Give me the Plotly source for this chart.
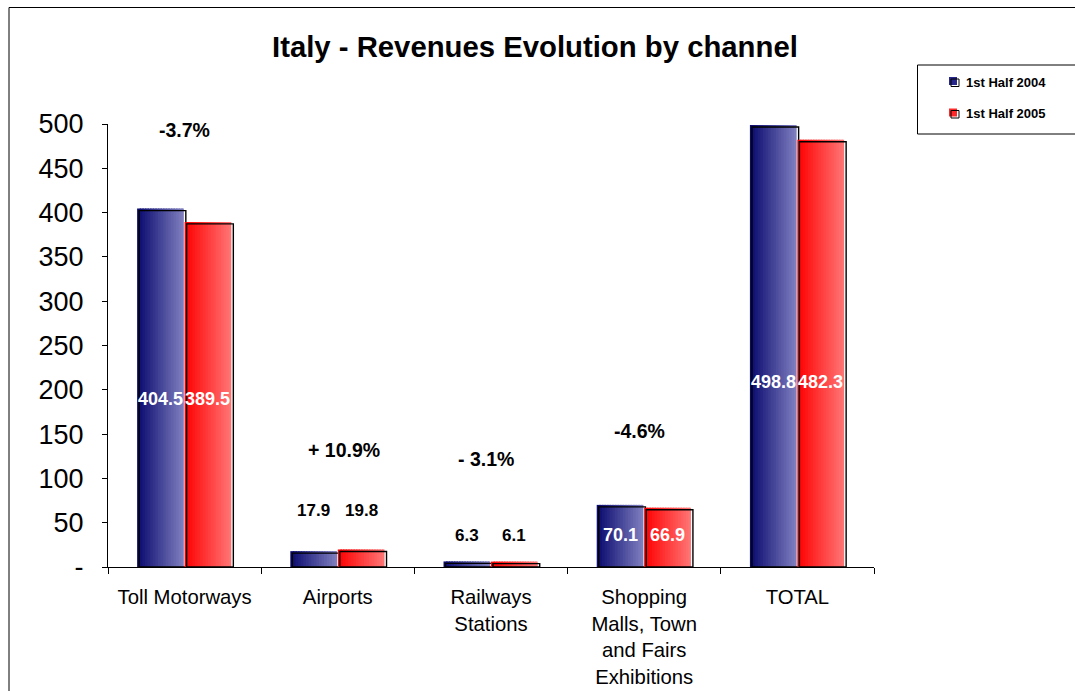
import plotly.graph_objects as go

# ---------------- data ----------------
categories = ["Toll Motorways", "Airports", "Railways<br>Stations",
              "Shopping<br>Malls, Town<br>and Fairs<br>Exhibitions", "TOTAL"]
series_names = ["1st Half 2004", "1st Half 2005"]
h1_2004 = [404.5, 17.9, 6.3, 70.1, 498.8]
h1_2005 = [389.5, 19.8, 6.1, 66.9, 482.3]
pct_labels = ["-3.7%", "+ 10.9%", "- 3.1%", "-4.6%", "-3.3%"]
y_tickvals = [0, 50, 100, 150, 200, 250, 300, 350, 400, 450, 500]
y_ticktext = ["-", "50", "100", "150", "200", "250", "300", "350", "400", "450", "500"]

# ---------------- layout / style constants ----------------
W, H = 1075, 691
L, R, T, B = 108, 874, 124, 567
YMAX = 500
PX_PER_CAT = (R - L) / len(categories)
PX_PER_Y = (B - T) / YMAX
FONT = "Liberation Sans, Arial, sans-serif"

BAR_W = 0.305
OFFSETS = [-0.31, 0.0]
GRAD = [((8, 8, 110), (128, 128, 192)), ((255, 0, 0), (255, 118, 118))]
N_STRIPS = 18
SHADOW_DX = 2 / PX_PER_CAT
SHADOW_DY = 2 / PX_PER_Y

# label placement (style): inside (white) or above (black) labels, y in data units
label_mode = ["inside", "above", "above", "inside", "inside"]
label_y = [190, 64, 36, 36, 209]
pct_pos = [(0.0, 493), (1.04, 132), (1.97, 122), (2.97, 153.5), (4.02, 531.5)]


def px_x(px):
    return (px - L) / (R - L)


def px_y(py):
    return (B - py) / (B - T)


def lerp(c0, c1, t):
    return "rgb(%d,%d,%d)" % tuple(round(a + (b - a) * t) for a, b in zip(c0, c1))


fig = go.Figure()
series = [h1_2004, h1_2005]
for s, vals in enumerate(series):
    off = OFFSETS[s]
    c0, c1 = GRAD[s]
    step = BAR_W / N_STRIPS
    for i in range(N_STRIPS):
        start = off + i * step
        width = min(step * 1.6, off + BAR_W - start)
        fig.add_trace(go.Bar(
            x=categories, y=vals, offset=start, width=width,
            marker=dict(color=lerp(c0, c1, (i + 0.5) / N_STRIPS), line=dict(width=0)),
            showlegend=False, hoverinfo="skip"))
    # offset outline (shadow)
    fig.add_trace(go.Bar(
        x=categories, y=[v - SHADOW_DY for v in vals], offset=off + SHADOW_DX, width=BAR_W,
        marker=dict(color="rgba(0,0,0,0)", line=dict(color="black", width=1.4)),
        showlegend=False, hoverinfo="skip"))

annotations = []
for s, vals in enumerate(series):
    for i, v in enumerate(vals):
        xc = i + OFFSETS[s] + BAR_W / 2
        white = label_mode[i] == "inside"
        annotations.append(dict(
            x=xc, y=label_y[i], xref="x", yref="y", text="<b>%.1f</b>" % v,
            showarrow=False, font=dict(family=FONT, size=18 if white else 17,
                                       color="white" if white else "black"),
            xanchor="center", yanchor="middle"))

for i, t in enumerate(pct_labels):
    xp, yp = pct_pos[i]
    annotations.append(dict(x=xp, y=yp, xref="x", yref="y", text="<b>%s</b>" % t,
                            showarrow=False, font=dict(family=FONT, size=19.5, color="black"),
                            xanchor="center", yanchor="middle"))

# title
annotations.append(dict(x=px_x(534.5), y=px_y(47), xref="paper", yref="paper",
                        text="<b>Italy - Revenues Evolution by channel</b>", showarrow=False,
                        font=dict(family=FONT, size=29.3, color="black"),
                        xanchor="center", yanchor="middle"))

# legend (manual)
shapes = [
    dict(type="rect", xref="paper", yref="paper", x0=px_x(9), x1=px_x(1090),
         y0=px_y(700), y1=px_y(7.5), line=dict(color="black", width=1), layer="below"),
    dict(type="rect", xref="paper", yref="paper", x0=px_x(917.5), x1=px_x(1090),
         y0=px_y(134), y1=px_y(65), line=dict(color="black", width=1)),
]
leg_y = [82.5, 114]
leg_fill = ["rgb(40,40,140)", "rgb(255,40,40)"]
for s, name in enumerate(series_names):
    cy = leg_y[s]
    shapes.append(dict(type="rect", xref="paper", yref="paper",
                       x0=px_x(949), x1=px_x(957), y0=px_y(cy + 2.5), y1=px_y(cy - 5.5),
                       fillcolor=leg_fill[s], line=dict(width=0)))
    shapes.append(dict(type="rect", xref="paper", yref="paper",
                       x0=px_x(951), x1=px_x(959), y0=px_y(cy + 4), y1=px_y(cy - 3.5),
                       fillcolor="rgba(0,0,0,0)", line=dict(color="black", width=1)))
    annotations.append(dict(x=px_x(964), y=px_y(cy), xref="paper", yref="paper",
                            text="<b>%s</b>" % name, showarrow=False,
                            font=dict(family=FONT, size=13, color="black"),
                            xanchor="left", yanchor="middle"))

fig.update_layout(
    width=W, height=H, barmode="overlay",
    margin=dict(l=L, r=W - R, t=T, b=H - B, pad=0, autoexpand=False),
    paper_bgcolor="white", plot_bgcolor="white",
    showlegend=False, annotations=annotations, shapes=shapes,
    font=dict(family=FONT, color="black"),
)
fig.update_xaxes(type="category", range=[-0.5, len(categories) - 0.5],
                 showline=True, linecolor="black", linewidth=1, mirror=False,
                 ticks="outside", tickson="boundaries", ticklen=6, tickcolor="black",
                 tickfont=dict(family=FONT, size=20.3, color="black"), automargin=False,
                 showgrid=False, zeroline=False, ticklabelstandoff=12)
fig.update_yaxes(range=[0, YMAX], showline=True, linecolor="black", linewidth=1,
                 ticks="outside", ticklen=5, tickcolor="black", automargin=False,
                 tickvals=y_tickvals, ticktext=y_ticktext,
                 tickfont=dict(family=FONT, size=27, color="black"),
                 showgrid=False, zeroline=False, ticklabelstandoff=13)

fig.write_html("out.html")
